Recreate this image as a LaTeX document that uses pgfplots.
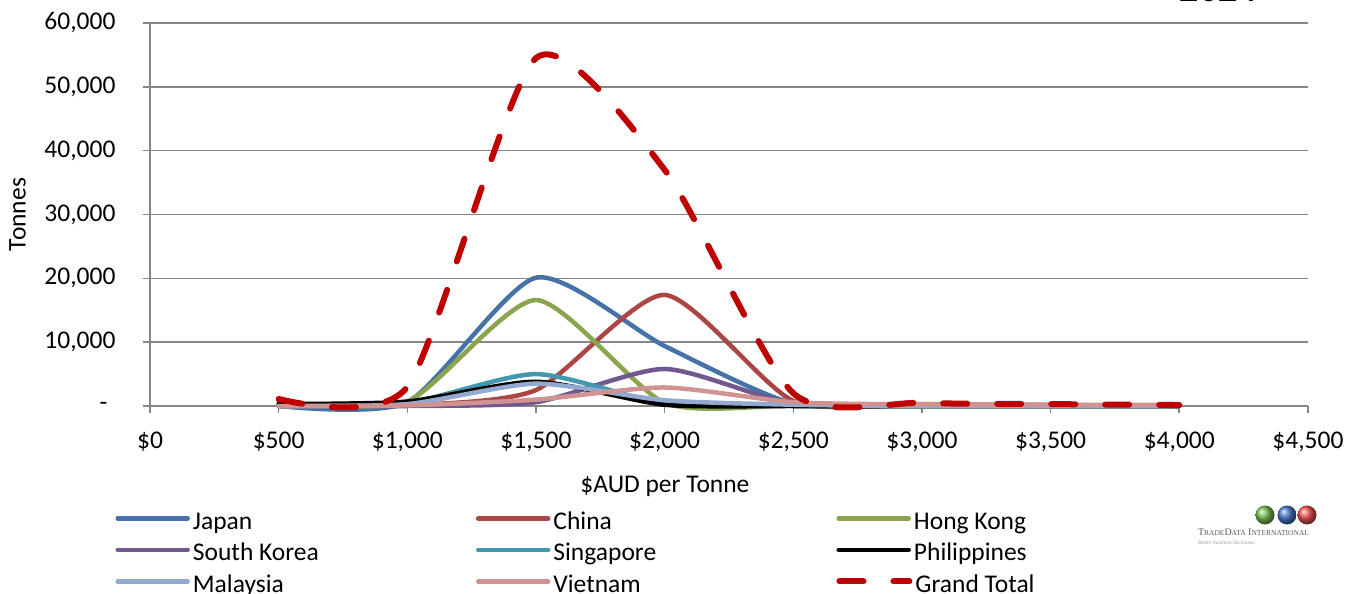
\documentclass[border=0pt]{standalone}
\usepackage{fontspec}
\setmainfont{Carlito}
\newfontfamily\logofont{Liberation Serif}
\usepackage{pgfplots}
\pgfplotsset{compat=1.18}

\definecolor{axisgray}{HTML}{868686}
\definecolor{japan}{HTML}{4572A7}
\definecolor{china}{HTML}{AA4643}
\definecolor{hongkong}{HTML}{89A54E}
\definecolor{skorea}{HTML}{71588F}
\definecolor{singapore}{HTML}{4198AF}
\definecolor{malaysia}{HTML}{93A9CF}
\definecolor{vietnam}{HTML}{D19392}
\definecolor{total}{HTML}{C00000}
\definecolor{logogreen}{RGB}{120,190,80}
\definecolor{logoblue}{RGB}{70,120,200}
\definecolor{logored}{RGB}{235,80,80}

% one legend row per axis, so the rows keep the reference's spacing
\pgfplotsset{
  legendrow/.style={
    legend columns=3,
    legend style={at={(axis description cs:-0.0326,#1)}, anchor=north west,
        draw=none, fill=none,
        nodes={inner ysep=0pt, inner xsep=3bp},
        font=\fontsize{25.5bp}{30bp}\selectfont},
    legend cell align=left,
    legend image code/.code={\draw[##1] (0bp,0bp) -- (70bp,0bp);},
  },
  hiddenbox/.style={hide axis, scale only axis, width=1158bp, height=383bp,
    xmin=0, xmax=1, ymin=0, ymax=1},
  serie/.style={line width=4.5bp, line cap=round, line join=round},
}
\newcommand{\entry}[1]{\makebox[280bp][l]{\rule[-8bp]{0pt}{31.5bp}#1}}

\begin{document}
\begin{tikzpicture}[font=\fontsize{25.5bp}{30bp}\selectfont]
\begin{axis}[
    scale only axis,
    width=1158bp, height=383bp,
    xmin=0, xmax=4500,
    ymin=0, ymax=60000,
    clip=false,
    scaled y ticks=false,
    axis x line*=bottom,
    axis y line*=left,
    axis line style={draw=axisgray, line width=1.6bp},
    xtick={0,500,1000,1500,2000,2500,3000,3500,4000,4500},
    xticklabels={\$0,\$500,{\$1,000},{\$1,500},{\$2,000},{\$2,500},{\$3,000},{\$3,500},{\$4,000},{\$4,500}},
    ytick={0,10000,20000,30000,40000,50000,60000},
    yticklabels={-\hspace*{8bp},{10,000},{20,000},{30,000},{40,000},{50,000},{60,000}},
    xticklabel style={yshift=-8bp},
    yticklabel style={xshift=-24bp},
    ymajorgrids,
    grid style={draw=axisgray, line width=1.6bp},
    tick style={draw=axisgray, line width=1.6bp},
    xtick align=outside,
    ytick align=center,
    major tick length=14bp,
    xtick style={/pgfplots/major tick length=7bp},
    xlabel={\$AUD per Tonne},
    ylabel={Tonnes},
    xlabel style={at={(axis description cs:0.4447,-0.209)}, anchor=center},
    ylabel style={at={(axis description cs:-0.1144,0.5)}, anchor=center, rotate=0},
    every axis plot/.append style={smooth, tension=0.4, serie},
    legendrow=-0.255,
]
% Japan
\addplot[japan] coordinates {(500,0)(1000,600)(1500,20100)(2000,9400)(2500,400)(3000,100)(3500,50)(4000,0)};
\addlegendentry{\entry{Japan}}
% China
\addplot[china] coordinates {(500,0)(1000,100)(1500,2500)(2000,17400)(2500,800)(3000,300)(3500,150)(4000,50)};
\addlegendentry{\entry{China}}
% Hong Kong
\addplot[hongkong] coordinates {(500,600)(1000,700)(1500,16600)(2000,500)(2500,100)(3000,0)(3500,0)(4000,0)};
\addlegendentry{\entry{Hong Kong}}
% South Korea
\addplot[skorea] coordinates {(500,0)(1000,0)(1500,600)(2000,5800)(2500,300)(3000,100)(3500,50)(4000,0)};
% Singapore
\addplot[singapore] coordinates {(500,0)(1000,500)(1500,5000)(2000,400)(2500,0)(3000,0)(3500,0)(4000,0)};
% Philippines
\addplot[black] coordinates {(500,300)(1000,700)(1500,3800)(2000,200)(2500,0)(3000,0)(3500,0)(4000,0)};
% Malaysia
\addplot[malaysia] coordinates {(500,0)(1000,300)(1500,3500)(2000,900)(2500,200)(3000,0)(3500,0)(4000,0)};
% Vietnam
\addplot[vietnam] coordinates {(500,0)(1000,100)(1500,1000)(2000,2900)(2500,600)(3000,250)(3500,200)(4000,150)};
% Grand Total
\addplot[total, line width=6bp, dash pattern=on 24bp off 30bp] coordinates {(500,1100)(1000,3000)(1500,54500)(2000,37000)(2500,2000)(3000,500)(3500,300)(4000,150)};
\end{axis}
% legend rows 2 and 3
\begin{axis}[hiddenbox, legendrow=-0.3373]
\addlegendimage{skorea, serie}
\addlegendentry{\entry{South Korea}}
\addlegendimage{singapore, serie}
\addlegendentry{\entry{Singapore}}
\addlegendimage{black, serie}
\addlegendentry{\entry{Philippines}}
\end{axis}
\begin{axis}[hiddenbox, legendrow=-0.4196]
\addlegendimage{malaysia, serie}
\addlegendentry{\entry{Malaysia}}
\addlegendimage{vietnam, serie}
\addlegendentry{\entry{Vietnam}}
\addlegendimage{total, serie, line width=6bp, dash pattern=on 24bp off 30bp}
\addlegendentry{\entry{Grand Total}}
\end{axis}
% logo
\shade[ball color=logogreen] (1115bp,-109bp) circle (9.5bp);
\shade[ball color=logoblue] (1137bp,-109bp) circle (9.5bp);
\shade[ball color=logored] (1157bp,-109bp) circle (9.5bp);
\node[text=black!65, inner sep=0pt] at (1103.5bp,-126bp) {\resizebox{111bp}{!}{\logofont\fontsize{10bp}{10bp}\selectfont T{\fontsize{7.5bp}{8bp}\selectfont RADE}D{\fontsize{7.5bp}{8bp}\selectfont ATA} I{\fontsize{7.5bp}{8bp}\selectfont NTERNATIONAL}}};
\node[text=black!40, inner sep=0pt, anchor=west] at (1048bp,-137bp) {\resizebox{57bp}{!}{\logofont\itshape Better business decisions.}};
% title, mostly above the page
\node[anchor=base east, inner sep=0pt, font=\fontsize{38bp}{40bp}\selectfont\bfseries] at (1107bp,404bp) {2024};
\pgfresetboundingbox
\path[use as bounding box] (-150bp,-188bp) rectangle (1199bp,406bp);
\end{tikzpicture}
\end{document}
